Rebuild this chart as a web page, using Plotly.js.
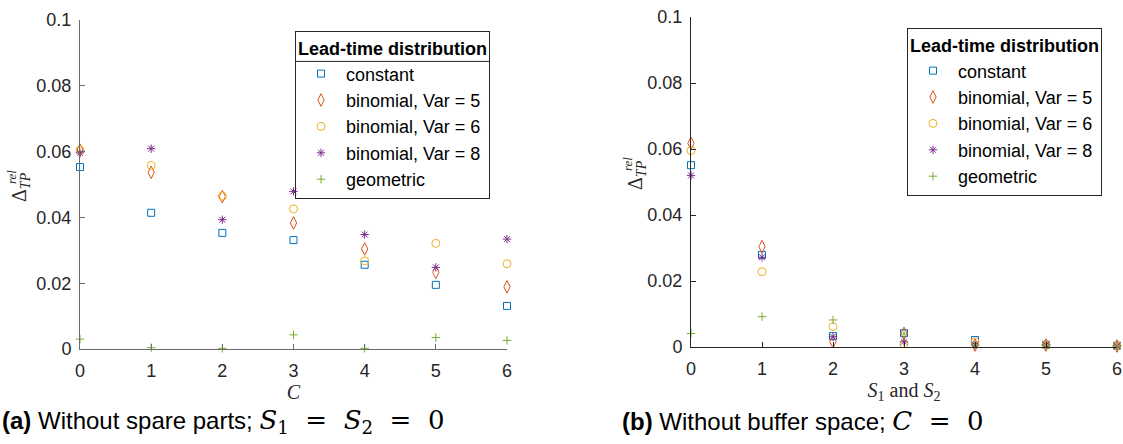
<!DOCTYPE html>
<html>
<head>
<meta charset="utf-8">
<script src="https://cdn.plot.ly/plotly-3.0.1.min.js"></script>
<style>html,body{margin:0;padding:0;background:#fff;}#chart{width:1123px;height:444px;}</style>
</head>
<body>
<div id="chart"></div>
<script>
// ---- Data ----
const seriesNames = ["constant", "binomial, Var = 5", "binomial, Var = 6", "binomial, Var = 8", "geometric"];
const xTicks = [0, 1, 2, 3, 4, 5, 6];
const yTicks = [0, 0.02, 0.04, 0.06, 0.08, 0.1];

// (a) Without spare parts; x = C
const bufferC = [0, 1, 2, 3, 4, 5, 6];
const constantA = [0.0553, 0.0414, 0.0353, 0.0331, 0.0256, 0.0195, 0.0131];
const binom5A   = [0.0604, 0.0537, 0.0463, 0.0383, 0.0304, 0.0233, 0.0189];
const binom6A   = [0.0605, 0.0558, 0.0465, 0.0426, 0.0268, 0.0321, 0.0259];
const binom8A   = [0.0596, 0.0609, 0.0393, 0.0479, 0.0348, 0.0248, 0.0334];
const geomA     = [0.0030, 0.0004, 0.0002, 0.0043, 0.0002, 0.0035, 0.0026];

// (b) Without buffer space; x = S1 and S2
const spareS = [0, 1, 2, 3, 4, 5, 6];
const constantB = [0.0551, 0.0279, 0.0033, 0.0042, 0.0021, 0.0007, 0.0004];
const binom5B   = [0.0617, 0.0304, 0.0016, 0.0041, 0.0006, 0.0006, 0.0003];
const binom6B   = [0.0595, 0.0228, 0.0062, 0.0009, 0.0016, 0.0007, 0.0004];
const binom8B   = [0.0520, 0.0272, 0.0031, 0.0016, 0.0006, 0.0006, 0.0003];
const geomB     = [0.0041, 0.0092, 0.0082, 0.0040, 0.0005, 0.0005, 0.0003];

// ---- Styles ----
const colors  = ["#0072BD", "#D95319", "#EDB120", "#7E2F8E", "#77AC30"];
const symbols = ["square-open", "diamond-tall-open", "circle-open", "asterisk-open", "cross-thin-open"];
const sizes   = [7, 9, 8, 7, 6];

const SANS = "Liberation Sans, Arial, sans-serif";
const SERIF = "Liberation Serif, Times New Roman, serif";
const TXT = "#262626";
const W = 1123, H = 444;

const seriesA = [constantA, binom5A, binom6A, binom8A, geomA];
const seriesB = [constantB, binom5B, binom6B, binom8B, geomB];

const traces = [];
seriesA.forEach((ys, i) => traces.push({
  type: "scatter", mode: "markers", x: bufferC, y: ys, name: seriesNames[i],
  xaxis: "x", yaxis: "y", legend: "legend", cliponaxis: false,
  marker: {symbol: symbols[i], size: sizes[i], color: colors[i], line: {color: colors[i], width: 1}}
}));
seriesB.forEach((ys, i) => traces.push({
  type: "scatter", mode: "markers", x: spareS, y: ys, name: seriesNames[i],
  xaxis: "x2", yaxis: "y2", legend: "legend2", cliponaxis: false,
  marker: {symbol: symbols[i], size: sizes[i], color: colors[i], line: {color: colors[i], width: 1}}
}));

function xAxis(domain, anchor, title, lineColor) {
  return {
    domain: domain, anchor: anchor, range: [0, 6], tickvals: xTicks, ticks: "inside", ticklen: 5,
    tickcolor: lineColor, showline: true, linecolor: lineColor, linewidth: 1, mirror: false,
    showgrid: false, zeroline: false, tickfont: {family: SANS, size: 18, color: TXT},
    ticklabelstandoff: 5,
    title: {text: title, font: {family: SERIF, size: 20, color: TXT}, standoff: 2}
  };
}
function yAxis(domain, anchor, lineColor) {
  return {
    domain: domain, anchor: anchor, range: [0, 0.1], tickvals: yTicks, ticks: "inside", ticklen: 5,
    tickcolor: lineColor, showline: true, linecolor: lineColor, linewidth: 1, mirror: false,
    showgrid: false, zeroline: false, tickfont: {family: SANS, size: 18, color: TXT},
    ticklabelstandoff: 4
  };
}

const legendBase = {
  bgcolor: "rgba(255,255,255,0)", bordercolor: TXT, borderwidth: 1,
  font: {family: SANS, size: 18, color: "#000"}, itemwidth: 40, tracegroupgap: 0,
  xanchor: "left", yanchor: "top", itemclick: false,
  title: {text: "<b>Lead-time distribution</b>", side: "top center", font: {family: SANS, size: 18, color: "#000"}}
};

const MATH = "font-family:'DejaVu Serif';font-size:26px";
const yLabel = "Δ<sub><i>TP</i></sub>";

const layout = {
  width: W, height: H, autosize: false,
  margin: {l: 0, r: 0, t: 0, b: 0},
  paper_bgcolor: "#fff", plot_bgcolor: "rgba(0,0,0,0)",
  showlegend: true,
  xaxis: xAxis([80/W, 507/W], "y", "<i>C</i>", "#6b6b6b"),
  yaxis: yAxis([1-349/H, 1-20/H], "x", "#6b6b6b"),
  xaxis2: xAxis([691/W, 1117/W], "y2", "<i>S</i><sub>1</sub> and <i>S</i><sub>2</sub>", "#262626"),
  yaxis2: yAxis([1-347/H, 1-17/H], "x2", "#262626"),
  legend: Object.assign({}, legendBase, {x: 295/W, y: 1-31/H}),
  legend2: Object.assign({}, legendBase, {x: 907/W, y: 1-28/H}),
  shapes: [],
  annotations: [
    {xref: "paper", yref: "paper", x: 20/W, y: 1-187/H, text: yLabel, textangle: -90, showarrow: false,
     font: {family: SERIF, size: 20, color: TXT}, xanchor: "center", yanchor: "middle"},
    {xref: "paper", yref: "paper", x: 11/W, y: 1-177/H, text: "<i>rel</i>", textangle: -90, showarrow: false,
     font: {family: SERIF, size: 13, color: TXT}, xanchor: "center", yanchor: "middle"},
    {xref: "paper", yref: "paper", x: 636/W, y: 1-175/H, text: yLabel, textangle: -90, showarrow: false,
     font: {family: SERIF, size: 20, color: TXT}, xanchor: "center", yanchor: "middle"},
    {xref: "paper", yref: "paper", x: 627/W, y: 1-164/H, text: "<i>rel</i>", textangle: -90, showarrow: false,
     font: {family: SERIF, size: 13, color: TXT}, xanchor: "center", yanchor: "middle"},
    {xref: "paper", yref: "paper", x: 0, y: 1-421/H, xanchor: "left", yanchor: "middle", showarrow: false,
     text: "<b>(a)</b> Without spare parts; <span style=\"" + MATH + "\"><i>S</i><sub>1</sub>&nbsp;&nbsp;=&nbsp;&nbsp;<i>S</i><sub>2</sub>&nbsp;&nbsp;=&nbsp;&nbsp;0</span>",
     font: {family: SANS, size: 24, color: "#000"}},
    {xref: "paper", yref: "paper", x: 620/W, y: 1-421/H, xanchor: "left", yanchor: "middle", showarrow: false,
     text: "<b>(b)</b> Without buffer space; <span style=\"" + MATH + "\"><i>C</i>&nbsp;&nbsp;=&nbsp;&nbsp;0</span>",
     font: {family: SANS, size: 24, color: "#000"}}
  ]
};

const gd = document.getElementById("chart");
Plotly.newPlot(gd, traces, layout, {staticPlot: true, displayModeBar: false}).then(() => {
  const root = gd.getBoundingClientRect();
  const shapes = [];
  ["legend", "legend2"].forEach(id => {
    const g = gd.querySelector("g." + id);
    if (!g) return;
    const bg = g.querySelector("rect.bg");
    const tt = g.querySelector(".legendtitletext");
    if (!bg || !tt) return;
    const b = bg.getBoundingClientRect();
    const t = tt.getBoundingClientRect();
    const yPix = t.bottom - root.top + 2;
    shapes.push({type: "line", xref: "paper", yref: "paper", layer: "above",
      x0: (b.left - root.left) / W, x1: (b.right - root.left) / W,
      y0: 1 - yPix / H, y1: 1 - yPix / H, line: {color: TXT, width: 1}});
  });
  return Plotly.relayout(gd, {shapes: shapes});
});
</script>
</body>
</html>
